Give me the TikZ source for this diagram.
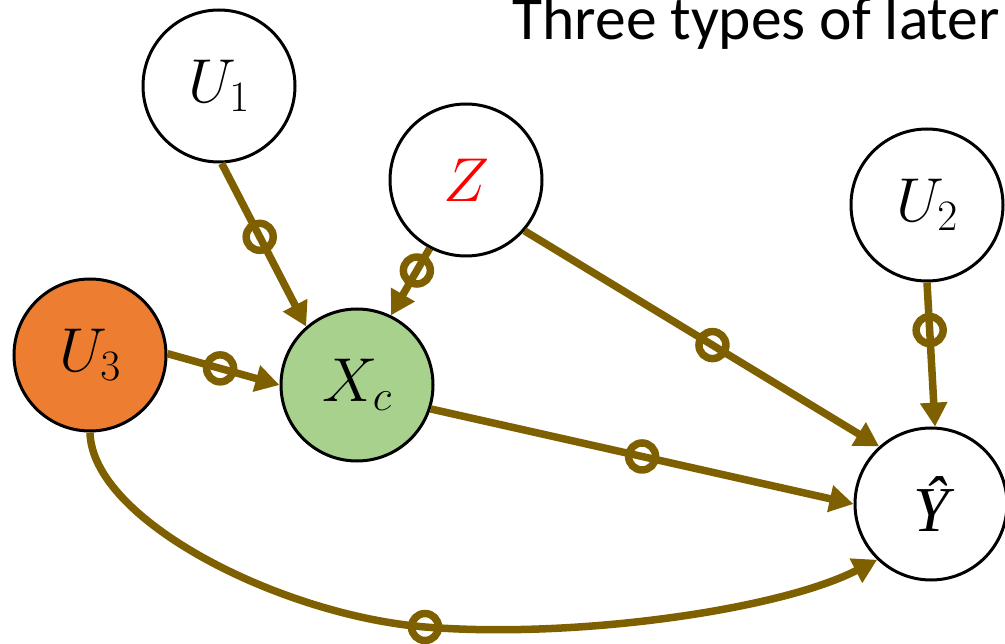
\RequirePackage{fix-cm}
\documentclass[tikz,border=0pt]{standalone}
\usepackage{fontspec}
\setmainfont{Carlito}
\newfontfamily\yfont{Liberation Serif}
\usetikzlibrary{arrows.meta}
\definecolor{edgec}{HTML}{7F6000}
\definecolor{orangefill}{HTML}{ED7D31}
\definecolor{greenfill}{HTML}{A9D18E}
\begin{document}
\begin{tikzpicture}[x=1pt,y=-1pt,
  var/.style={circle,draw=black,line width=3pt,minimum size=152pt,inner sep=0pt,font=\fontsize{62}{72}\selectfont},
  edge/.style={draw=edgec,line width=7.5pt,-{Triangle[length=24pt,width=26pt]}},
  ring/.style={circle,draw=edgec,line width=7.5pt,minimum size=27pt,inner sep=0pt}]
\useasboundingbox (0,0) rectangle (1005,644);
\clip (0,0) rectangle (1005,644);
\node[anchor=base west,font=\fontsize{61.5}{66}\selectfont] (title) at (509,40) {Three types of later};
\node[var] (U1) at (219,86) {$U_1$};
\node[var] (Z) at (466,180) {\textcolor{red}{$Z$}};
\node[var] (U2) at (927,205) {$U_2$};
\node[var,fill=orangefill] (U3) at (90,355) {$U_3$};
\node[var,fill=greenfill] (Xc) at (357,385) {$X_c$};
\node[var] (Y) at (931,504) {\fontsize{64}{72}\selectfont\yfont\itshape Ŷ};
\draw[edge] (U1.-88) -- (Xc.131) node[ring,pos=0.45]{};
\draw[edge] (Z.242) -- (Xc.64) node[ring,pos=0.33]{};
\draw[edge] (U3.1) -- (Xc.180) node[ring,pos=0.47]{};
\draw[edge] (Z.-41) -- (Y.132) node[ring,pos=0.53]{};
\draw[edge] (U2.-90) -- (Y.87) node[ring,pos=0.33]{};
\draw[edge] (Xc.-18) -- (Y.180) node[ring,pos=0.5]{};
\coordinate (m5) at (425,627);
\draw[edge] (U3.-90) .. controls (92,520) and (280,615) .. (m5) .. controls (575,639) and (780,610) .. (Y.226);
\node[ring] (r5) at (m5) {};
\end{tikzpicture}
\end{document}
